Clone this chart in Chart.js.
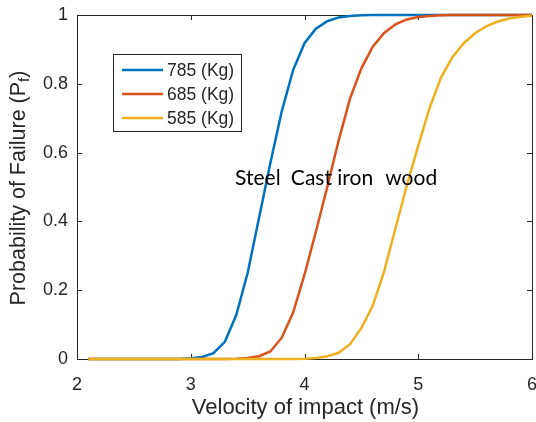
<!DOCTYPE html>
<html><head><meta charset="utf-8">
<script src="https://cdn.jsdelivr.net/npm/chart.js@4/dist/chart.umd.min.js"></script>
<style>html,body{margin:0;padding:0;background:#fff;overflow:hidden}</style>
</head><body>
<canvas id="c" width="536" height="422"></canvas>
<script>
// ---- data ----
const velocity = [2.1,2.2,2.3,2.4,2.5,2.6,2.7,2.8,2.9,3.0,3.1,3.2,3.3,3.4,3.5,3.6,3.7,3.8,3.9,4.0,
                  4.1,4.2,4.3,4.4,4.5,4.6,4.7,4.8,4.9,5.0,5.1,5.2,5.3,5.4,5.5,5.6,5.7,5.8,5.9,6.0];
const steel785 = [0,0,0,0,0,0,0,0,0,0.002,0.006,0.017,0.05,0.128,0.25,0.41,0.57,0.72,0.84,0.918,
                  0.96,0.982,0.993,0.997,0.999,1,1,1,1,1,1,1,1,1,1,1,1,1,1,1];
const castIron685 = [0,0,0,0,0,0,0,0,0,0,0,0,0,0.001,0.003,0.008,0.022,0.062,0.135,0.245,
                  0.37,0.5,0.635,0.757,0.845,0.908,0.948,0.973,0.987,0.994,0.997,0.999,1,1,1,1,1,1,1,1];
const wood585 = [0,0,0,0,0,0,0,0,0,0,0,0,0,0,0,0,0,0,0,0.001,
                  0.003,0.008,0.018,0.043,0.09,0.155,0.255,0.38,0.505,0.62,0.73,0.818,0.877,0.918,0.947,0.968,0.981,0.99,0.995,0.998];
const seriesLabels = ['785 (Kg)','685 (Kg)','585 (Kg)'];
const xTickValues = [2,3,4,5,6];
const yTickValues = [0,0.2,0.4,0.6,0.8,1];
const xTitle = 'Velocity of impact (m/s)';
const yTitleMain = 'Probability of Failure (P';
const yTitleSub = 'f';
const yTitleEnd = ')';
const materialNotes = ['Steel','Cast iron','wood'];
const materialNoteX = [3.39,3.88,4.71];
const materialNoteY = [0.506,0.506,0.506];

const colors = ['#0072BD','#D95319','#EDB120'];
const axisColor = '#262626';
const tickFont = {family:'"Liberation Sans", Arial, sans-serif', size:18};

function pts(ys){ return velocity.map((v,i)=>({x:v,y:ys[i]})); }

const boxPlugin = {
  id:'matlabBox',
  beforeDatasetsDraw(chart){
    const {ctx, chartArea:a, scales:{x,y}} = chart;
    ctx.save();
    ctx.strokeStyle = axisColor; ctx.lineWidth = 1;
    ctx.strokeRect(Math.round(a.left)+0.5, Math.round(a.top)+0.5, Math.round(a.right-a.left), Math.round(a.bottom-a.top));
    ctx.beginPath();
    const tl = 5;
    xTickValues.forEach(v=>{
      const px = Math.round(x.getPixelForValue(v))+0.5;
      ctx.moveTo(px,a.bottom); ctx.lineTo(px,a.bottom-tl);
      ctx.moveTo(px,a.top); ctx.lineTo(px,a.top+tl);
    });
    yTickValues.forEach(v=>{
      const py = Math.round(y.getPixelForValue(v))+0.5;
      ctx.moveTo(a.left,py); ctx.lineTo(a.left+tl,py);
      ctx.moveTo(a.right,py); ctx.lineTo(a.right-tl,py);
    });
    ctx.stroke();
    ctx.restore();
  },
  afterDraw(chart){
    const {ctx, chartArea:a, scales:{x,y}} = chart;
    ctx.save();
    // annotations
    ctx.fillStyle = '#000';
    ctx.font = '21px Lato, "Open Sans", sans-serif';
    ctx.textBaseline = 'alphabetic'; ctx.textAlign = 'left';
    materialNotes.forEach((t,i)=>{
      ctx.fillText(t, x.getPixelForValue(materialNoteX[i]), y.getPixelForValue(materialNoteY[i]));
    });
    // legend
    const lx = 113.5, ly = 54.5, lw = 128, lh = 77;
    ctx.fillStyle = '#fff'; ctx.fillRect(lx,ly,lw,lh);
    ctx.strokeStyle = axisColor; ctx.lineWidth = 1; ctx.strokeRect(lx,ly,lw,lh);
    ctx.font = '17.5px "Liberation Sans", Arial, sans-serif';
    ctx.textBaseline = 'middle';
    seriesLabels.forEach((lab,i)=>{
      const ry = 70 + i*24;
      ctx.strokeStyle = chart.data.datasets[i].borderColor; ctx.lineWidth = 2.5;
      ctx.beginPath(); ctx.moveTo(122,ry); ctx.lineTo(163,ry); ctx.stroke();
      ctx.fillStyle = axisColor; ctx.fillText(lab, 167, ry+1);
    });
    // axis titles
    ctx.fillStyle = axisColor;
    ctx.font = '22px "Liberation Sans", Arial, sans-serif';
    ctx.textAlign = 'center'; ctx.textBaseline = 'alphabetic';
    ctx.fillText(xTitle, (a.left+a.right)/2 + 1, 414);
    ctx.translate(25, (a.top+a.bottom)/2 + 1);
    ctx.rotate(-Math.PI/2);
    ctx.textAlign = 'left';
    const f1 = '21.5px "Liberation Sans", Arial, sans-serif', f2 = '15px "Liberation Sans", Arial, sans-serif';
    ctx.font = f1; const w1 = ctx.measureText(yTitleMain).width, w3 = ctx.measureText(yTitleEnd).width;
    ctx.font = f2; const w2 = ctx.measureText(yTitleSub).width;
    let sx = -(w1+w2+w3)/2;
    ctx.font = f1; ctx.fillText(yTitleMain, sx, 0); sx += w1;
    ctx.font = f2; ctx.fillText(yTitleSub, sx, 4); sx += w2;
    ctx.font = f1; ctx.fillText(yTitleEnd, sx, 0);
    ctx.restore();
  }
};

new Chart(document.getElementById('c'), {
  type:'line',
  data:{
    datasets:[
      {label:seriesLabels[0], data:pts(steel785), borderColor:colors[0], order:3},
      {label:seriesLabels[1], data:pts(castIron685), borderColor:colors[1], order:2},
      {label:seriesLabels[2], data:pts(wood585), borderColor:colors[2], order:1}
    ].map(d=>Object.assign(d,{borderWidth:2.5, pointRadius:0, tension:0, fill:false, clip:false}))
  },
  options:{
    responsive:false, animation:false, devicePixelRatio:1,
    layout:{padding:{left:0,right:4,top:15,bottom:0}},
    plugins:{legend:{display:false}, tooltip:{enabled:false}},
    scales:{
      x:{type:'linear', min:2, max:6,
        grid:{display:false, drawTicks:false}, border:{display:false},
        afterBuildTicks(s){ s.ticks = xTickValues.map(v=>({value:v})); },
        afterFit(s){ s.height = 63; s.paddingLeft = 0; s.paddingRight = 0; },
        ticks:{font:tickFont, color:axisColor, padding:15, maxRotation:0, callback:v=>String(v)}},
      y:{type:'linear', min:0, max:1,
        grid:{display:false, drawTicks:false}, border:{display:false},
        afterBuildTicks(s){ s.ticks = yTickValues.map(v=>({value:v})); },
        afterFit(s){ s.width = 77; s.paddingTop = 0; s.paddingBottom = 0; },
        ticks:{font:tickFont, color:axisColor, padding:9, callback:v=>String(v)}}
    }
  },
  plugins:[boxPlugin]
});
</script>
</body></html>
